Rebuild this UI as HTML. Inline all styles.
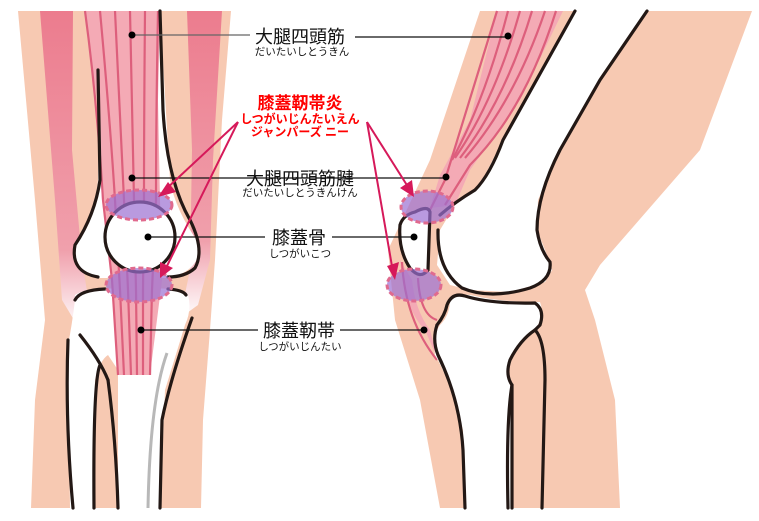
<!DOCTYPE html>
<html><head><meta charset="utf-8"><style>
html,body{margin:0;padding:0;background:#fff}
svg{display:block}
text{font-family:"Liberation Sans","Noto Sans CJK JP",sans-serif}
</style></head><body>
<svg width="759" height="521" viewBox="0 0 759 521" xmlns="http://www.w3.org/2000/svg">
<defs>
<linearGradient id="fadeL" x1="0" y1="0" x2="0" y2="1">
<stop offset="0" stop-color="#ec7c8e"/><stop offset="0.75" stop-color="#f0a0ac"/><stop offset="1" stop-color="#fff"/>
</linearGradient>
</defs>
<!-- LEFT LEG skin -->
<path d="M18,11 L231,11 L222,120 L215,260 L210,330 L203,420 L201,508 L31,508 L35,400 L45,320 L35,200 Z" fill="#f7c9b2"/>
<path d="M40,11 L73,11 L72,150 L82,260 L90,310 L80,330 L62,300 L55,200 Z" fill="url(#fadeL)"/>
<path d="M187,11 L222,11 L213,160 L210,260 L198,305 L180,318 L190,270 L192,150 Z" fill="url(#fadeL)"/>
<path d="M98,60 L98,180 Q95,215 75,245 Q72,272 100,278 L170,278 Q200,270 200,245 Q175,210 170,180 L160,11 L98,11 Z" fill="#fff"/>
<path d="M75,295 Q90,285 130,290 Q175,285 188,295 Q192,310 185,325 L165,390 L160,508 L70,508 L68,345 Q72,325 75,300 Z" fill="#fff"/>
<path d="M93,508 L95,380 Q100,360 108,355 L118,370 L118,508 Z" fill="#f7c9b2"/>
<path d="M85,11 L160,11 L158,100 L160,200 L162,280 L150,375 L118,375 L112,280 L102,200 L97,100 Z" fill="#f4aab5"/>
<g stroke="#dd5f7c" stroke-width="2.2" fill="none">
<path d="M85,11 Q97,100 103,200 L112,280 L118,375"/>
<path d="M100,11 Q110,120 115,200 L120,290 L124,375"/>
<path d="M115,11 Q120,120 124,200 L128,290 L131,375"/>
<path d="M130,11 Q132,120 134,200 L136,290 L137,375"/>
<path d="M145,11 Q144,120 144,200 L143,290 L143,375"/>
<path d="M158,11 Q156,120 156,200 L152,290 L150,375"/>
</g>
<circle cx="140" cy="237" r="35" fill="#fff"/>
<g stroke="#231815" stroke-width="3.2" fill="none" stroke-linecap="round">
<path d="M98,70 L100,180 Q95,215 75,245 Q70,272 98,277"/>
<path d="M160,11 L163,110 Q167,180 190,220 Q205,250 195,268 Q185,277 168,277"/>
<circle cx="140" cy="237" r="35"/>
<path d="M75,300 Q80,290 105,289"/>
<path d="M168,289 Q183,290 186,295"/>
<path d="M68,340 Q65,420 73,508"/>
<path d="M80,335 Q100,360 108,380"/>
<path d="M100,365 Q93,380 94,508"/>
<path d="M108,380 Q116,440 118,508"/>
<path d="M192,318 Q170,380 162,420 L160,508"/>
</g>
<path d="M167,353 Q150,400 148,508" stroke="#b8b8b8" stroke-width="3" fill="none"/>
<ellipse cx="139" cy="205" rx="33" ry="15" fill="#9b6fd1" fill-opacity="0.7" stroke="#e06a8e" stroke-width="3" stroke-dasharray="5,3"/>
<ellipse cx="139" cy="285" rx="33" ry="17" fill="#9b6fd1" fill-opacity="0.7" stroke="#e06a8e" stroke-width="3" stroke-dasharray="5,3"/>

<!-- RIGHT LEG -->
<path d="M480,11 L752,11 L700,150 L600,265 L585,290 L595,320 L615,400 L620,508 L440,508 L420,400 L395,320 L388,250 L430,160 Z" fill="#f7c9b2"/>
<path d="M575,11 L647,11 L600,80 L560,150 L538,200 L537,230 L545,250 L552,270 L545,282 L510,292 L470,290 L450,285 L437,265 L440,230 L455,205 L480,185 L503,140 Z" fill="#fff"/>
<path d="M497,11 L563,11 L520,100 L470,170 L455,205 L430,208 L440,175 L470,120 Z" fill="#f4aab5"/>
<g stroke="#dd5f7c" stroke-width="2.2" fill="none">
<path d="M497,11 Q470,100 445,180 L430,210"/>
<path d="M508,11 Q485,100 452,160"/>
<path d="M520,11 Q495,100 455,158"/>
<path d="M532,11 Q505,100 460,158"/>
<path d="M545,11 Q515,100 465,158"/>
<path d="M556,11 Q525,110 470,165 L445,205"/>
</g>
<path d="M400,260 Q405,310 425,330 L438,360 L430,330 Q415,310 412,280 Z" fill="#f4aab5"/>
<path d="M402,262 Q405,320 437,360" stroke="#dd5f7c" stroke-width="2.2" fill="none"/>
<path d="M418,278 Q420,315 437,320" stroke="#dd5f7c" stroke-width="2.2" fill="none"/>
<path d="M450,300 Q460,292 475,296 Q500,302 540,302 Q545,315 535,330 L515,350 Q505,370 510,385 L512,508 L465,508 L463,430 Q450,380 435,355 Q433,335 440,325 Q450,315 450,300 Z" fill="#fff"/>
<path d="M415,212 Q428,205 430,212 L428,270 Q420,280 410,268 Q398,250 400,225 Q403,215 415,212 Z" fill="#fff"/>
<g stroke="#231815" stroke-width="3.2" fill="none" stroke-linecap="round">
<path d="M575,11 L503,140 Q490,175 475,190 Q455,202 440,215"/>
<path d="M647,11 L600,80 L560,150 Q537,195 537,230 Q540,250 550,262 Q552,280 530,288 Q490,300 462,288 Q437,270 438,230"/>
<path d="M415,212 Q428,205 430,212 L428,270 Q420,280 410,268 Q398,250 400,225 Q403,215 415,212 Z"/>
<path d="M437,325 Q445,315 447,305 Q452,292 465,296 Q490,304 535,303 Q545,310 540,325 L535,330"/>
<path d="M437,325 Q432,340 438,355 Q460,400 463,450 L465,508"/>
<path d="M535,330 Q545,340 545,380 L542,508"/>
<path d="M535,330 Q520,340 510,360 Q505,375 512,385 L512,508"/>
<path d="M512,385 Q506,420 508,508"/>
</g>
<ellipse cx="427" cy="207" rx="26" ry="16" fill="#9b6fd1" fill-opacity="0.7" stroke="#e06a8e" stroke-width="3" stroke-dasharray="5,3"/>
<ellipse cx="414" cy="285" rx="27" ry="16" fill="#9b6fd1" fill-opacity="0.7" stroke="#e06a8e" stroke-width="3" stroke-dasharray="5,3"/>

<g stroke="#111" stroke-width="1.3">
<line x1="132" y1="35" x2="250" y2="35" stroke="#666"/>
<line x1="355" y1="37" x2="508" y2="37"/>
<line x1="132" y1="178" x2="446" y2="178"/>
<line x1="148" y1="237" x2="265" y2="237"/>
<line x1="332" y1="237" x2="414" y2="237"/>
<line x1="141" y1="330" x2="258" y2="330"/>
<line x1="340" y1="330" x2="424" y2="330"/>
</g>
<g fill="#000">
<circle cx="132" cy="35" r="3.5"/><circle cx="508" cy="36" r="3.5"/>
<circle cx="132" cy="178" r="3.5"/><circle cx="446" cy="177" r="3.5"/>
<circle cx="148" cy="237" r="3.5"/><circle cx="414" cy="237" r="3.5"/>
<circle cx="141" cy="330" r="3.5"/><circle cx="424" cy="330" r="3.5"/>
</g>
<g stroke="#d6195a" stroke-width="2" fill="none">
<line x1="238" y1="122" x2="165" y2="190"/>
<line x1="238" y1="122" x2="165" y2="270"/>
<line x1="367" y1="122" x2="410" y2="190"/>
<line x1="367" y1="122" x2="393" y2="272"/>
</g>
<g fill="#d6195a">
<polygon points="158,197 168,182 176,192"/>
<polygon points="160,278 160,262 173,268"/>
<polygon points="414,197 400,188 412,180"/>
<polygon points="395,280 387,266 399,262"/>
</g>
<g text-anchor="middle" fill="#111">
<text x="300" y="43" font-size="18">大腿四頭筋</text>
<text x="302" y="55" font-size="10.5">だいたいしとうきん</text>
<text x="300" y="185" font-size="18">大腿四頭筋腱</text>
<text x="300" y="196" font-size="10.5">だいたいしとうきんけん</text>
<text x="299" y="244" font-size="18">膝蓋骨</text>
<text x="300" y="257" font-size="10.5">しつがいこつ</text>
<text x="299" y="337" font-size="18">膝蓋靭帯</text>
<text x="300" y="350" font-size="10.5">しつがいじんたい</text>
</g>
<g text-anchor="middle" fill="#f00" font-weight="bold">
<text x="300" y="109" font-size="17">膝蓋靭帯炎</text>
<text x="300" y="123" font-size="12">しつがいじんたいえん</text>
<text x="300" y="136" font-size="12">ジャンパーズ ニー</text>
</g>
</svg>
</body></html>
